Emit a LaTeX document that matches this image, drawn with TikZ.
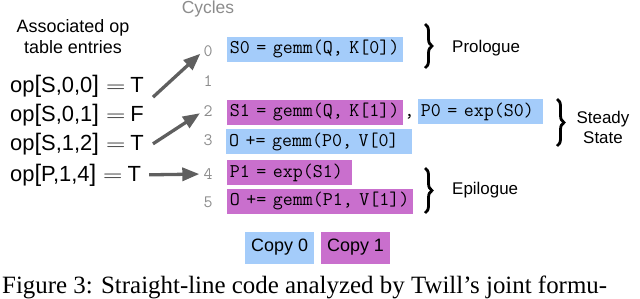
\documentclass[tikz,border=0pt]{standalone}
\usepackage{fontspec}
\setmainfont{Liberation Serif}
\setsansfont{Liberation Sans}
\usetikzlibrary{arrows.meta,decorations.pathreplacing}

\definecolor{copyblue}{RGB}{164,204,250}
\definecolor{copymag}{RGB}{201,111,205}
\definecolor{arrowgray}{RGB}{95,95,95}

\newcommand{\opbr}[1]{{\fontsize{24}{24}\selectfont #1}}
\newcommand{\opentry}[2]{op\opbr{[}#1\opbr{]}\hspace{7bp}\scalebox{1.3}[1]{$=$}\hspace{5bp}#2}

\tikzset{
  codebox/.style={fill=#1, font=\fontsize{19.5}{22}\ttfamily, anchor=west, inner xsep=3bp, inner ysep=0pt, minimum height=25bp, align=left},
  cyclenum/.style={font=\fontsize{17.5}{20}\ttfamily, text=black!45, inner sep=0pt},
  opentrynode/.style={font=\fontsize{22}{24}\sffamily, anchor=base west, inner sep=0pt},
  oparrow/.style={->, line width=3.3bp, arrowgray, shorten >=4bp},
  phase/.style={decorate, decoration={brace, amplitude=7bp}, line width=2.8bp},
  phaselabel/.style={font=\fontsize{17}{20}\sffamily, inner sep=0pt},
  copylabel/.style={fill=#1, font=\fontsize{18}{20}\sffamily, minimum height=32bp, inner xsep=6bp, anchor=west},
}

\begin{document}
\begin{tikzpicture}[>={Triangle[length=17bp,width=13bp]}, x=1bp, y=-1bp]
  \useasboundingbox (0,0) rectangle (640,298);

  % headings
  \node[font=\fontsize{17.5}{20}\sffamily, text=black!45] (cycles) at (208,9) {Cycles};
  \node[font=\fontsize{18}{21}\sffamily, align=center, anchor=north, inner sep=0pt] (assoc) at (73,19) {Associated op\\table entries};

  % op table entries
  \node[opentrynode] (op00) at (10,92) {\opentry{S,0,0}{T}};
  \node[opentrynode] (op01) at (10,121) {\opentry{S,0,1}{F}};
  \node[opentrynode] (op12) at (10,150) {\opentry{S,1,2}{T}};
  \node[opentrynode] (op14) at (10,181) {\opentry{P,1,4}{T}};

  % cycle numbers
  \foreach \c/\y in {0/51,1/81,2/111,3/140,4/174,5/202}
    \node[cyclenum] (cy\c) at (208,\y) {\c};

  % straight-line code
  \node[codebox=copyblue, text width=170bp] (s0) at (226.7,49.2) {S0 = gemm(Q, K[0])};
  \node[codebox=copymag, text width=170bp] (s1) at (226.7,112) {S1 = gemm(Q, K[1])};
  \node[anchor=base west, font=\fontsize{19.5}{22}\ttfamily, inner sep=0pt] (comma) at ([xshift=1bp]s1.base east) {,};
  \node[codebox=copyblue, text width=119bp] (p0) at (417.7,111.5) {P0 = exp(S0)};
  \node[codebox=copyblue, text width=180bp] (o0) at (226,141.7) {O += gemm(P0, V[0]};
  \node[codebox=copymag, text width=119bp] (p1) at (226.7,172.8) {P1 = exp(S1)};
  \node[codebox=copymag, text width=180bp] (o1) at (226.7,201.3) {O += gemm(P1, V[1])};

  % arrows
  \draw[oparrow] ([xshift=9bp]op00.south east) -- (cy0.west);
  \draw[oparrow] ([xshift=9bp]op12.east) -- (cy2.west);
  \draw[oparrow] ([xshift=8bp]op14.east) -- (cy4.west);

  % phases
  \draw[phase] (425,24) -- (425,68);
  \node[phaselabel, anchor=base west] (prologue) at (452,52) {Prologue};
  \draw[phase] (557,99) -- (557,146);
  \node[phaselabel, align=center] (steady) at (603,127) {Steady\\State};
  \draw[phase] (425,168) -- (425,213);
  \node[phaselabel, anchor=base west] (epilogue) at (452,194) {Epilogue};

  % legend
  \node[copylabel=copyblue] (copy0) at (245,247.5) {Copy 0};
  \node[copylabel=copymag] (copy1) at ([xshift=6.7bp]copy0.east) {Copy 1};

  \node[font=\fontsize{25}{28}\selectfont, anchor=base west, inner sep=0pt] (caption) at (2,293) {Figure 3: Straight-line code analyzed by Twill's joint formu-};
\end{tikzpicture}
\end{document}
